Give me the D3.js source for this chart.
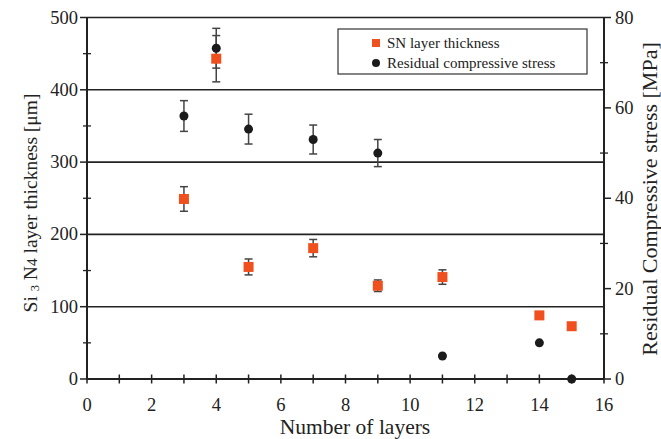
<!DOCTYPE html>
<html>
<head>
<meta charset="utf-8">
<script src="https://d3js.org/d3.v7.min.js"></script>
<style>
  body { margin: 0; background: #fff; }
  text { font-family: "Liberation Serif", "Times New Roman", "DejaVu Serif", serif; fill: #222; }
</style>
</head>
<body>
<svg id="chart" width="661" height="439"></svg>
<script>
// layers on x
var layers = [3, 4, 5, 7, 9, 11, 14, 15];
// SN layer thickness [um] and its error
var thickness = [249, 443, 155, 181, 129, 141, 88, 73];
var thicknessErr = [17, 32, 11, 12, 8, 10, 2, 2];
// residual compressive stress [MPa] and its error
var stress = [58.2, 73.2, 55.3, 53.0, 50.0, 5.1, 8.0, 0];
var stressErr = [3.4, 4.4, 3.3, 3.2, 3.0, 0, 0, 0];

var xTicks = [0, 2, 4, 6, 8, 10, 12, 14, 16];
var leftTicks = [0, 100, 200, 300, 400, 500];
var rightTicks = [0, 20, 40, 60, 80];

var orange = "#f0501e", dark = "#1b1b1b", barCol = "#444";

var svg = d3.select("#chart");
var pl = 87, pr = 604, pt = 17.5, pb = 379;

var x = d3.scaleLinear().domain([0, 16]).range([pl, pr]);
var yL = d3.scaleLinear().domain([0, 500]).range([pb, pt]);
var yR = d3.scaleLinear().domain([0, 80]).range([pb, pt]);

// grid lines (horizontal, full width, top one too)
svg.append("g").selectAll("line").data(leftTicks.filter(function(d){ return d > 0; }))
  .enter().append("line")
  .attr("x1", pl).attr("x2", pr)
  .attr("y1", function(d){ return yL(d); }).attr("y2", function(d){ return yL(d); })
  .attr("stroke", "#222").attr("stroke-width", 1.6);

// axes lines
svg.append("line").attr("x1", pl).attr("x2", pl).attr("y1", pt).attr("y2", pb)
  .attr("stroke", "#222").attr("stroke-width", 2);
svg.append("line").attr("x1", pr).attr("x2", pr).attr("y1", pt).attr("y2", pb)
  .attr("stroke", "#222").attr("stroke-width", 2);
svg.append("line").attr("x1", pl).attr("x2", pr).attr("y1", pb).attr("y2", pb)
  .attr("stroke", "#222").attr("stroke-width", 2);

// x ticks (every layer, crossing axis)
svg.append("g").selectAll("line").data(d3.range(0, 17))
  .enter().append("line")
  .attr("x1", function(d){ return x(d); }).attr("x2", function(d){ return x(d); })
  .attr("y1", pb - 4.5).attr("y2", pb + 4.5)
  .attr("stroke", "#222").attr("stroke-width", 1.5);
svg.append("g").selectAll("text").data(xTicks)
  .enter().append("text")
  .attr("x", function(d){ return x(d); }).attr("y", pb + 32)
  .attr("text-anchor", "middle").style("font-size", "18.5px")
  .text(function(d){ return d; });

// left ticks
svg.append("g").selectAll("line").data(leftTicks)
  .enter().append("line")
  .attr("x1", pl - 7).attr("x2", pl)
  .attr("y1", function(d){ return yL(d); }).attr("y2", function(d){ return yL(d); })
  .attr("stroke", "#222").attr("stroke-width", 1.5);
svg.append("g").selectAll("line").data([50, 150, 250, 350, 450])
  .enter().append("line")
  .attr("x1", pl - 4).attr("x2", pl + 4)
  .attr("y1", function(d){ return yL(d); }).attr("y2", function(d){ return yL(d); })
  .attr("stroke", "#222").attr("stroke-width", 1.3);
svg.append("g").selectAll("text").data(leftTicks)
  .enter().append("text")
  .attr("x", pl - 9).attr("y", function(d){ return yL(d) + 6; })
  .attr("text-anchor", "end").style("font-size", "18.5px")
  .text(function(d){ return d; });

// right ticks
svg.append("g").selectAll("line").data(rightTicks)
  .enter().append("line")
  .attr("x1", pr).attr("x2", pr + 7)
  .attr("y1", function(d){ return yR(d); }).attr("y2", function(d){ return yR(d); })
  .attr("stroke", "#222").attr("stroke-width", 1.5);
svg.append("g").selectAll("line").data([10, 30, 50, 70])
  .enter().append("line")
  .attr("x1", pr - 4).attr("x2", pr + 4)
  .attr("y1", function(d){ return yR(d); }).attr("y2", function(d){ return yR(d); })
  .attr("stroke", "#222").attr("stroke-width", 1.3);
svg.append("g").selectAll("text").data(rightTicks)
  .enter().append("text")
  .attr("x", pr + 11).attr("y", function(d){ return yR(d) + 6; })
  .attr("text-anchor", "start").style("font-size", "18.5px")
  .text(function(d){ return d; });

// axis titles
svg.append("text").attr("x", 355).attr("y", 434)
  .attr("text-anchor", "middle").style("font-size", "21.5px").text("Number of layers");

var yt = svg.append("text").attr("transform", "translate(37,203) rotate(-90)")
  .attr("text-anchor", "middle").style("font-size", "19.5px");
yt.append("tspan").text("Si ");
yt.append("tspan").style("font-size", "12.5px").attr("dy", 2).text("3");
yt.append("tspan").attr("dy", -2).text(" N");
yt.append("tspan").style("font-size", "15.5px").text("4");
yt.append("tspan").text(" layer thickness [\u03bcm]");

svg.append("text").attr("transform", "translate(657,199) rotate(-90)")
  .attr("text-anchor", "middle").style("font-size", "22px")
  .text("Residual Compressive stress [MPa]");

// error bars
function errBars(g, vals, errs, scale) {
  layers.forEach(function(l, i) {
    if (!errs[i]) return;
    var cx = x(l), y1 = scale(vals[i] + errs[i]), y2 = scale(vals[i] - errs[i]);
    g.append("line").attr("x1", cx).attr("x2", cx).attr("y1", y1).attr("y2", y2)
      .attr("stroke", barCol).attr("stroke-width", 1.5);
    [y1, y2].forEach(function(yy) {
      g.append("line").attr("x1", cx - 4).attr("x2", cx + 4).attr("y1", yy).attr("y2", yy)
        .attr("stroke", barCol).attr("stroke-width", 1.5);
    });
  });
}
var eg = svg.append("g");
errBars(eg, thickness, thicknessErr, yL);
errBars(eg, stress, stressErr, yR);

// stress points
svg.append("g").selectAll("circle").data(layers)
  .enter().append("circle")
  .attr("cx", function(d){ return x(d); })
  .attr("cy", function(d, i){ return yR(stress[i]); })
  .attr("r", 4.5).attr("fill", dark);

// thickness points
svg.append("g").selectAll("rect").data(layers)
  .enter().append("rect")
  .attr("x", function(d){ return x(d) - 5; })
  .attr("y", function(d, i){ return yL(thickness[i]) - 5; })
  .attr("width", 10).attr("height", 10).attr("fill", orange);

// legend
var lg = svg.append("g");
lg.append("rect").attr("x", 338).attr("y", 29).attr("width", 249).attr("height", 45)
  .attr("fill", "#fff").attr("stroke", "#333").attr("stroke-width", 1.2);
lg.append("rect").attr("x", 372).attr("y", 39).attr("width", 8).attr("height", 8).attr("fill", orange);
lg.append("text").attr("x", 387).attr("y", 48).style("font-size", "15px").text("SN layer thickness");
lg.append("circle").attr("cx", 376).attr("cy", 63).attr("r", 4).attr("fill", dark);
lg.append("text").attr("x", 387).attr("y", 68).style("font-size", "15px").text("Residual compressive stress");
</script>
</body>
</html>
